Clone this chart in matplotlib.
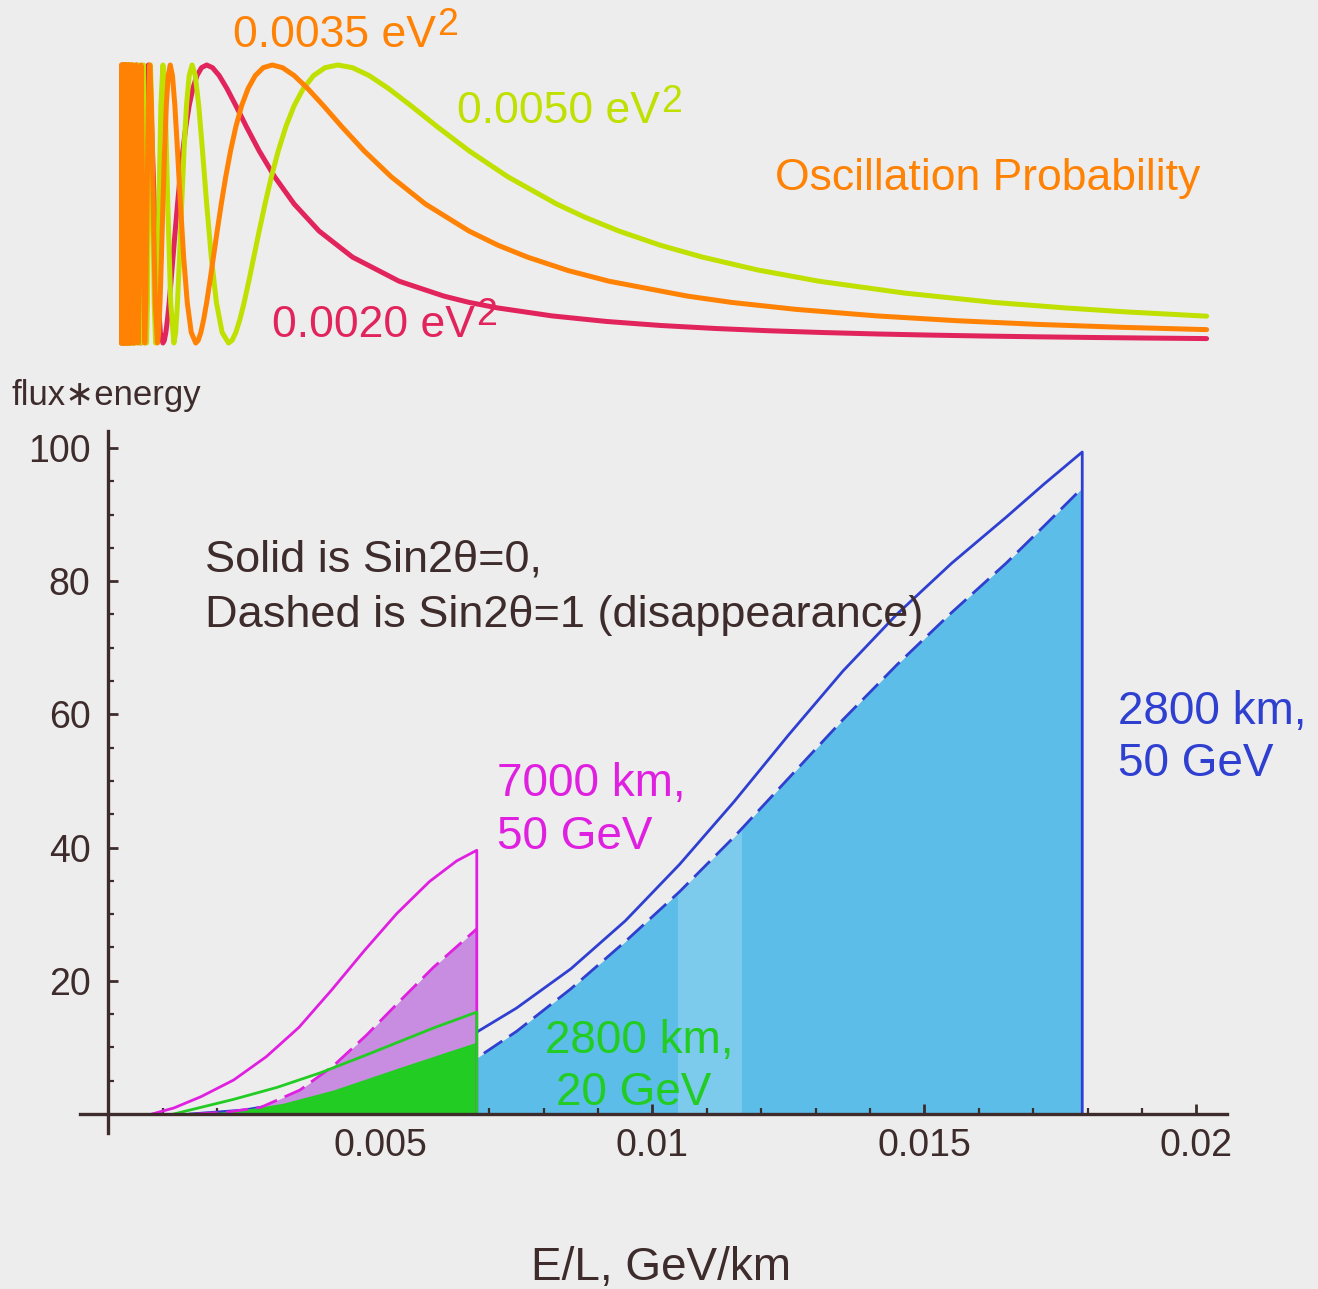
import numpy as np
import matplotlib.pyplot as plt
from matplotlib.ticker import FixedLocator

plt.rcParams['font.family'] = ['Liberation Sans', 'DejaVu Sans']

# ---- oscillation probability vs E/L (GeV/km) ----
red_x = [0.000038, 0.000045, 0.000055, 0.000065, 0.000075, 0.000085, 0.000095, 0.000105,
         0.000116, 0.000124, 0.000135, 0.000147, 0.000162, 0.00018, 0.000202,
         0.000231, 0.0002488, 0.00027, 0.000294, 0.000323, 0.0003593, 0.000404,
         0.0004173, 0.0004312, 0.0004461, 0.000462, 0.0004791, 0.0004975, 0.0005174,
         0.000539, 0.0005624, 0.000588, 0.000616, 0.0006468, 0.0006808, 0.0007187,
         0.0007609, 0.0008085, 0.0008346, 0.0008624, 0.0008921, 0.000924, 0.0009582,
         0.0009951, 0.0010349, 0.001078, 0.0011249, 0.001176, 0.001232, 0.0012936,
         0.0013617, 0.0014373, 0.0015219, 0.001617, 0.0017248, 0.001848, 0.0019902,
         0.002156, 0.002352, 0.0025872, 0.0028747, 0.003234, 0.003696, 0.004312,
         0.0051744, 0.006, 0.006468, 0.007, 0.008, 0.009, 0.010, 0.011, 0.012, 0.013,
         0.014, 0.015, 0.016, 0.017, 0.018, 0.019, 0.0201]
red_p = [0, 1, 0, 1, 0, 1, 0, 1,
         0, 1, 0, 1, 0, 1, 0,
         1, 0.5, 0, 0.5, 1, 0.5, 0,
         0.038, 0.146, 0.309, 0.5, 0.691, 0.854, 0.962,
         1, 0.962, 0.854, 0.691, 0.5, 0.309, 0.146,
         0.038, 0, 0.0096, 0.038, 0.0843, 0.146, 0.2222,
         0.309, 0.4025, 0.5, 0.5975, 0.691, 0.7778, 0.854,
         0.9157, 0.962, 0.9904, 1, 0.9904, 0.962, 0.9157,
         0.854, 0.7778, 0.691, 0.5975, 0.5, 0.4025, 0.309,
         0.2222, 0.1688, 0.146, 0.126, 0.0975, 0.0776, 0.0631, 0.0524, 0.0441, 0.0377,
         0.0325, 0.0284, 0.025, 0.0222, 0.0198, 0.0178, 0.0159]

org_x = [0.00004, 0.000048, 0.00006, 0.000072, 0.000084, 0.000096, 0.000108, 0.00012,
         0.000132, 0.000145, 0.000157, 0.000166, 0.000177, 0.000189, 0.000202, 0.000218,
         0.000236, 0.000257, 0.000283, 0.000314, 0.000354,
         0.0003773, 0.0004043, 0.0004353, 0.0004716, 0.0004921, 0.0005145, 0.000539,
         0.000566, 0.0005957, 0.0006288, 0.0006658, 0.0007074, 0.0007303, 0.0007546,
         0.0007806, 0.0008085, 0.0008384, 0.0008707, 0.0009055, 0.0009433, 0.0009843,
         0.001029, 0.001078, 0.0011319, 0.0011915, 0.0012577, 0.0013316, 0.0014149,
         0.0014605, 0.0015092, 0.0015612, 0.001617, 0.0016769, 0.0017414, 0.001811,
         0.0018865, 0.0019685, 0.002058, 0.002156, 0.0022638, 0.002383, 0.0025153,
         0.0026633, 0.0028298, 0.0030184, 0.003234, 0.0034828, 0.003773, 0.004116,
         0.0045276, 0.0050307, 0.0056595, 0.006468, 0.007, 0.007546, 0.0083, 0.0090552,
         0.0105, 0.011319, 0.0125, 0.014, 0.0155, 0.017, 0.0185, 0.0201]
org_p = [0, 1, 0, 1, 0, 1, 0, 1,
         0, 1, 0, 1, 0, 1, 0, 1,
         0, 1, 0, 1, 0,
         0.5, 1, 0.5, 0, 0.146, 0.5, 0.854,
         1, 0.854, 0.5, 0.146, 0, 0.038, 0.146,
         0.309, 0.5, 0.691, 0.854, 0.962, 1, 0.962,
         0.854, 0.691, 0.5, 0.309, 0.146, 0.038, 0,
         0.0096, 0.038, 0.0843, 0.146, 0.2222, 0.309, 0.4025,
         0.5, 0.5975, 0.691, 0.7778, 0.854, 0.9157, 0.962,
         0.9904, 1, 0.9904, 0.962, 0.9157, 0.854, 0.7778,
         0.691, 0.5975, 0.5, 0.4025, 0.3518, 0.309, 0.2605, 0.2222,
         0.1688, 0.146, 0.1212, 0.0975, 0.080, 0.0668, 0.0566, 0.0481]

yel_x = [0.00004, 0.00005, 0.000064, 0.000078, 0.000092, 0.000106, 0.00012, 0.000134,
         0.000148, 0.000162, 0.000176, 0.00019, 0.000202, 0.000213, 0.000225, 0.000238,
         0.000253, 0.00027, 0.000289, 0.000311, 0.000337, 0.000368, 0.000404,
         0.0004255, 0.0004492, 0.0004756, 0.0005053, 0.0005216, 0.000539, 0.0005576,
         0.0005775, 0.0005989, 0.0006219, 0.0006468, 0.0006738, 0.0007031, 0.000735,
         0.00077, 0.0008085, 0.0008511, 0.0008984, 0.0009512, 0.0010107, 0.0010433,
         0.001078, 0.0011152, 0.001155, 0.0011978, 0.0012439, 0.0012936, 0.0013475,
         0.0014061, 0.00147, 0.00154, 0.0016171, 0.0017022, 0.0017967, 0.0019024,
         0.0020213, 0.0020865, 0.0021561, 0.0022304, 0.00231, 0.0023956, 0.0024878,
         0.0025873, 0.0026951, 0.0028123, 0.0029401, 0.0030801, 0.0032341, 0.0034043,
         0.0035934, 0.0038048, 0.0040426, 0.0043121, 0.00462, 0.0049755, 0.0053902,
         0.00588, 0.0064682, 0.0071869, 0.0080853, 0.0086, 0.0092403, 0.0100, 0.01078,
         0.0118, 0.0129364, 0.0145, 0.01617, 0.0175, 0.0186, 0.0201]
yel_p = [0, 1, 0, 1, 0, 1, 0, 1,
         0, 1, 0, 1, 0, 1, 0, 1,
         0, 1, 0, 1, 0, 1, 0,
         0.5, 1, 0.5, 0, 0.146, 0.5, 0.854,
         1, 0.854, 0.5, 0.146, 0, 0.146, 0.5,
         0.854, 1, 0.854, 0.5, 0.146, 0, 0.038,
         0.146, 0.309, 0.5, 0.691, 0.854, 0.962, 1,
         0.962, 0.854, 0.691, 0.5, 0.309, 0.146, 0.038,
         0, 0.0096, 0.038, 0.0843, 0.146, 0.2222, 0.309,
         0.4025, 0.5, 0.5975, 0.691, 0.7778, 0.854, 0.9157,
         0.962, 0.9904, 1, 0.9904, 0.962, 0.9157, 0.854,
         0.7778, 0.691, 0.5975, 0.5, 0.4531, 0.4025, 0.3518, 0.309,
         0.2628, 0.2222, 0.180, 0.146, 0.126, 0.112, 0.0965]

# ---- flux*energy spectra ----
mag_x = [0.0008, 0.0012, 0.0017, 0.0023, 0.0029, 0.0035, 0.0041, 0.0047, 0.0053,
         0.0059, 0.0064, 0.00677, 0.00677]
mag_solid = [0, 0.9, 2.6, 5.1, 8.6, 13.0, 18.6, 24.5, 30.1, 34.9, 38.0, 39.6, 0]
mag_dx = [0.0016, 0.0022, 0.0028, 0.00352, 0.00413, 0.00475, 0.00536, 0.00597, 0.00677]
mag_dashed = [0, 0.3, 1.0, 3.6, 7.2, 11.9, 17.0, 22.0, 27.8]

grn_x = [0.0012, 0.0023, 0.0031, 0.0039, 0.00475, 0.00597, 0.00677, 0.00677]
grn_solid = [0, 2.2, 4.0, 6.2, 8.9, 12.9, 15.3, 0]
grn_dx = [0.0014, 0.0023, 0.0032, 0.00413, 0.00536, 0.00677]
grn_dashed = [0, 0.4, 1.6, 3.6, 7.0, 10.8]

blu_x = [0.0015, 0.0025, 0.0035, 0.0045, 0.0055, 0.00677, 0.0075, 0.0085, 0.0095,
         0.0105, 0.0115, 0.0125, 0.0135, 0.0145, 0.0155, 0.0165, 0.0172, 0.0179, 0.0179]
blu_solid = [0, 0.6, 2.0, 4.2, 7.4, 12.3, 15.9, 21.8, 29.0,
             37.5, 46.9, 56.9, 66.5, 75.1, 82.7, 89.6, 94.6, 99.4, 0]
blu_dx = [0.0020, 0.003, 0.004, 0.005, 0.006, 0.00677, 0.0075, 0.0085, 0.0095,
          0.0105, 0.0115, 0.0125, 0.0135, 0.0145, 0.0155, 0.0165, 0.0172, 0.0179]
blu_dashed = [0, 0.8, 2.0, 3.8, 6.0, 8.4, 12.4, 18.8, 25.9,
              33.4, 41.6, 50.4, 59.2, 67.5, 75.3, 82.7, 88.3, 94.0]
pale_band = (0.01047, 0.01164)

x_major = [0.005, 0.01, 0.015, 0.02]
x_labels = ['0.005', '0.01', '0.015', '0.02']
x_minor = [i / 1000 for i in range(1, 21) if i % 5]
y_major = [20, 40, 60, 80, 100]
y_minor = [v for v in range(5, 101, 5) if v % 20]

bg = '#ededee'
ink = '#3e2c2c'
c_red, c_org, c_yel = '#e2245c', '#ff8205', '#bfe000'
c_mag, c_grn, c_blu = '#e020e0', '#22cc22', '#2f3fd0'
fill_mag, fill_blu = '#c88ce0', '#5cbde8'

fig = plt.figure(figsize=(13.18, 12.89), dpi=100, facecolor=bg)

# top panel: probability curves
top = fig.add_axes([0.09044, 0.72312, 0.84146, 0.23724])
top.set_xlim(0, 0.0205)
top.set_ylim(-0.05, 1.05)
top.axis('off')
for xs, ps, c in ((red_x, red_p, c_red), (yel_x, yel_p, c_yel), (org_x, org_p, c_org)):
    top.plot(xs, ps, color=c, lw=3.6, solid_joinstyle='round', solid_capstyle='round')


def ev2_label(axes, x, y, value, color):
    t = axes.text(x, y, value + ' eV', color=color, fontsize=32, va='baseline',
                  clip_on=False)
    axes.annotate('2', xy=(1, 0), xycoords=t, xytext=(1, 9), textcoords='offset points',
                  color=color, fontsize=27, va='bottom', ha='left')


ev2_label(top, 0.0021, 1.065, '0.0035', c_org)
ev2_label(top, 0.00624, 0.791, '0.0050', c_yel)
ev2_label(top, 0.002824, 0.0216, '0.0020', c_red)
top.text(0.01212, 0.55, 'Oscillation Probability', color=c_org, fontsize=32, va='baseline')

# bottom panel: spectra
ax = fig.add_axes([0.02041, 0.10993, 0.9493, 0.56835])
ax.set_facecolor('none')
ax.set_xlim(-0.0015, 0.0215)
ax.set_ylim(-5, 105)

blue_fill = ax.fill_between(blu_dx, blu_dashed, 0, color=fill_blu, lw=0, zorder=1)
band = ax.axvspan(*pale_band, color='white', alpha=0.2, lw=0, zorder=1.1)
band.set_clip_path(blue_fill.get_paths()[0], ax.transData)
ax.plot(blu_x, blu_solid, color=c_blu, lw=2, zorder=2)
ax.plot(blu_dx, blu_dashed, color=c_blu, lw=2, dashes=(8, 3), zorder=2)

ax.fill_between(mag_dx, mag_dashed, 0, color=fill_mag, lw=0, zorder=2.1)
ax.fill_between(grn_dx, grn_dashed, 0, color=c_grn, lw=0, zorder=2.2)
ax.plot(mag_x, mag_solid, color=c_mag, lw=2, zorder=2.3)
ax.plot(mag_dx, mag_dashed, color=c_mag, lw=2, dashes=(8, 3), zorder=2.3)
ax.plot(grn_x, grn_solid, color=c_grn, lw=2, zorder=2.4)

for side in ('top', 'right'):
    ax.spines[side].set_visible(False)
ax.spines['left'].set_position(('data', 0))
ax.spines['bottom'].set_position(('data', 0))
ax.spines['left'].set_bounds(-2.8, 102.5)
ax.spines['bottom'].set_bounds(-0.00052, 0.02056)
for side in ('left', 'bottom'):
    ax.spines[side].set_color(ink)
    ax.spines[side].set_linewidth(2.4)
    ax.spines[side].set_zorder(5)

ax.set_xticks(x_major)
ax.set_xticklabels(x_labels)
ax.xaxis.set_minor_locator(FixedLocator(x_minor))
ax.set_yticks(y_major)
ax.yaxis.set_minor_locator(FixedLocator(y_minor))
ax.tick_params(which='both', direction='in', color=ink, labelcolor=ink, zorder=5)
ax.tick_params(which='major', length=7, width=2, labelsize=27, pad=10)
ax.tick_params(which='minor', length=4, width=1.6)
ax.tick_params(axis='y', which='major', pad=13)

note = dict(fontsize=32.5, va='baseline', color=ink)
ax.text(0.001774, 81.5, 'Solid is Sin2θ=0,', **note)
ax.text(0.001774, 73.1, 'Dashed is Sin2θ=1 (disappearance)', **note)

lab = dict(fontsize=33, va='baseline')
ax.text(0.00714, 47.7, '7000 km,', color=c_mag, **lab)
ax.text(0.00714, 39.8, '50 GeV', color=c_mag, **lab)
ax.text(0.01856, 58.6, '2800 km,', color=c_blu, clip_on=False, **lab)
ax.text(0.01856, 50.8, '50 GeV', color=c_blu, clip_on=False, **lab)
ax.text(0.008024, 9.2, '2800 km,', color=c_grn, zorder=6, **lab)
ax.text(0.008226, 1.35, '20 GeV', color=c_grn, zorder=6, **lab)

fig.text(12 / 1318, 1 - 405 / 1289, 'flux∗energy', color=ink, fontsize=25, va='baseline')
fig.text(661 / 1318, 1 - 1280 / 1289, 'E/L, GeV/km', color=ink, fontsize=33,
         ha='center', va='baseline')

fig.savefig('out.png', dpi=100, facecolor=bg)
